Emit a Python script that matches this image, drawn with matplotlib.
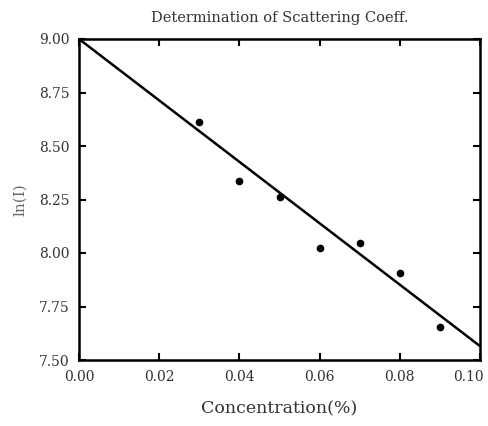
import matplotlib
matplotlib.use("Agg")
import matplotlib.pyplot as plt
from matplotlib.transforms import ScaledTranslation

# measured points
conc = [0.03, 0.04, 0.05, 0.06, 0.07, 0.08, 0.09]
ln_i = [8.61, 8.335, 8.26, 8.025, 8.045, 7.905, 7.655]

# straight line drawn through the data
fit_x = [0.0, 0.10]
fit_y = [9.0, 7.565]

xticks = [0.00, 0.02, 0.04, 0.06, 0.08, 0.10]
yticks = [7.50, 7.75, 8.00, 8.25, 8.50, 8.75, 9.00]

plt.rcParams["font.family"] = ["DejaVu Serif"]

fig = plt.figure(figsize=(4.89, 4.26), dpi=100)
ax = fig.add_axes([79 / 489, 1 - 360 / 426, (480 - 79) / 489, (360 - 39) / 426])

ax.plot(fit_x, fit_y, color="black", lw=1.8)
ax.plot(conc, ln_i, "o", color="black", ms=4.5)

ax.set_xlim(0, 0.10)
ax.set_ylim(7.5, 9.0)
ax.set_xticks(xticks)
ax.set_xticklabels([f"{v:.2f}" for v in xticks])
ax.set_yticks(yticks)
ax.set_yticklabels([f"{v:.2f}" for v in yticks])

ax.tick_params(direction="in", top=True, right=True, length=5, width=1.5,
               labelsize=10, labelcolor="#333333", pad=7)
for s in ax.spines.values():
    s.set_linewidth(1.8)

# keep the last x label inside the picture, as in the reference
last = ax.get_xticklabels()[-1]
last.set_transform(last.get_transform() + ScaledTranslation(-12 / 100, 0, fig.dpi_scale_trans))

ax.set_title("Determination of Scattering Coeff.", fontsize=10.5, color="#333333", pad=12)
ax.set_xlabel("Concentration(%)", fontsize=12.5, color="#333333", labelpad=12)
ax.set_ylabel("ln(I)", fontsize=11, color="#666666", labelpad=8)

fig.savefig("out.png", dpi=100, facecolor="white")
